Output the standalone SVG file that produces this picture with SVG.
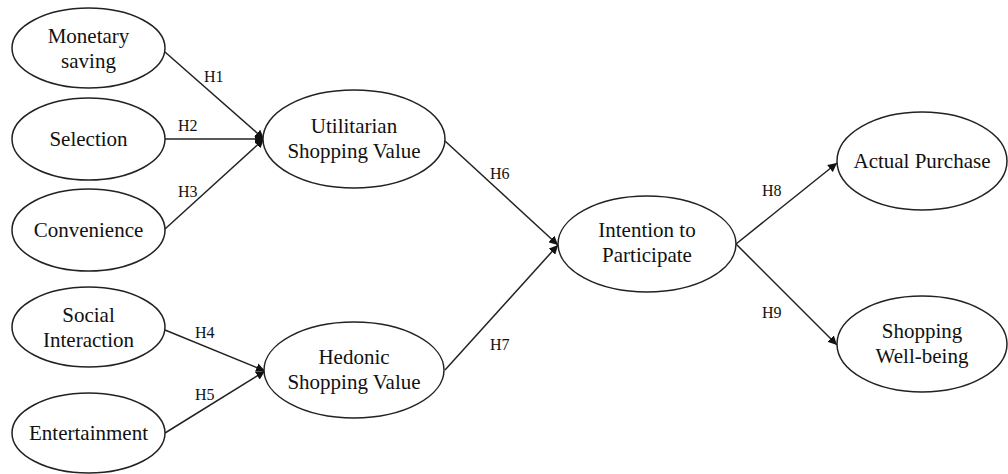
<svg xmlns="http://www.w3.org/2000/svg" width="1008" height="474" viewBox="0 0 1008 474">
<style>
.n ellipse{fill:#fff;stroke:#222;stroke-width:1.5}
.n text{font-size:21px;fill:#111;text-anchor:middle}
.c line{stroke:#222;stroke-width:1.5;marker-end:url(#ah)}
.c text{font-size:16px;fill:#111}
</style>
<defs>
<marker id="ah" viewBox="0 0 10 10" refX="10" refY="5" markerWidth="9" markerHeight="9" markerUnits="userSpaceOnUse" orient="auto">
<path d="M0,0L10,5L0,10Z" fill="#111"/>
</marker>
</defs>
<rect width="1008" height="474" fill="#fff"/>
<g font-family="Liberation Serif, Times New Roman, Times, DejaVu Serif, serif">
<g class="c" id="connectors">
<line x1="165" y1="52" x2="264" y2="139"/>
<line x1="165" y1="139" x2="264" y2="139"/>
<line x1="165" y1="229" x2="264" y2="139"/>
<line x1="165" y1="330" x2="265" y2="371"/>
<line x1="165" y1="433" x2="265" y2="371"/>
<line x1="445" y1="141" x2="558" y2="245"/>
<line x1="445" y1="370" x2="558" y2="245"/>
<line x1="736" y1="244" x2="837" y2="163"/>
<line x1="736" y1="244" x2="837" y2="345"/>
<text x="204" y="82">H1</text>
<text x="178" y="131">H2</text>
<text x="178" y="197">H3</text>
<text x="195" y="338">H4</text>
<text x="195" y="400">H5</text>
<text x="490" y="179">H6</text>
<text x="490" y="350">H7</text>
<text x="762" y="196">H8</text>
<text x="762" y="318">H9</text>
</g>
<g class="n" id="monetary"><ellipse cx="88.5" cy="48" rx="76.5" ry="40"/><text x="88.5" y="43">Monetary</text><text x="88.5" y="68">saving</text></g>
<g class="n" id="selection"><ellipse cx="88.5" cy="139" rx="76.5" ry="41"/><text x="88.5" y="146">Selection</text></g>
<g class="n" id="convenience"><ellipse cx="88.5" cy="230" rx="76.5" ry="41"/><text x="88.5" y="237">Convenience</text></g>
<g class="n" id="social"><ellipse cx="88.5" cy="327" rx="76.5" ry="40"/><text x="88.5" y="322">Social</text><text x="88.5" y="347">Interaction</text></g>
<g class="n" id="entertainment"><ellipse cx="88.5" cy="433" rx="76.5" ry="40"/><text x="88.5" y="440">Entertainment</text></g>
<g class="n" id="utilitarian"><ellipse cx="354" cy="139" rx="91" ry="49"/><text x="354" y="133">Utilitarian</text><text x="354" y="158">Shopping Value</text></g>
<g class="n" id="hedonic"><ellipse cx="354" cy="370" rx="90" ry="48"/><text x="354" y="364">Hedonic</text><text x="354" y="389">Shopping Value</text></g>
<g class="n" id="intention"><ellipse cx="647" cy="244" rx="89" ry="48"/><text x="647" y="237">Intention to</text><text x="647" y="262">Participate</text></g>
<g class="n" id="purchase"><ellipse cx="922" cy="161" rx="85" ry="49"/><text x="922" y="168">Actual Purchase</text></g>
<g class="n" id="wellbeing"><ellipse cx="922" cy="344" rx="85" ry="48"/><text x="922" y="338">Shopping</text><text x="922" y="363">Well-being</text></g>
</g>
</svg>
